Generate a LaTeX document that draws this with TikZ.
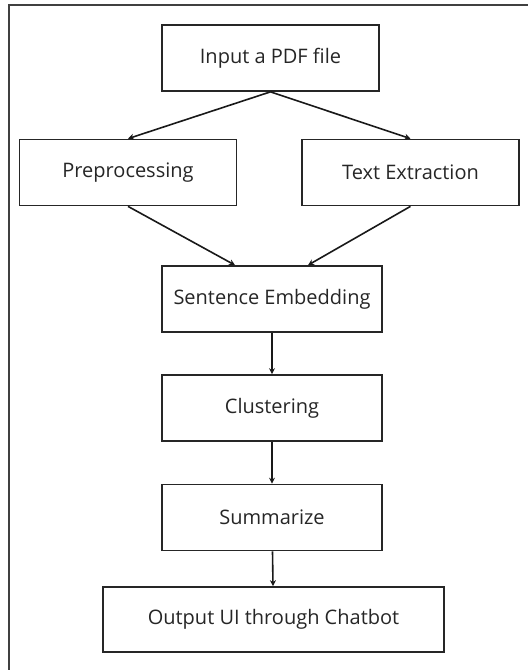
\documentclass[tikz,border=0pt]{standalone}
\usepackage{fontspec}
\setmainfont{Open Sans}
\usepackage{tikz}
\usetikzlibrary{shapes,arrows,arrows.meta,positioning}

\begin{document}
\begin{tikzpicture}[
        x=1pt, y=-1pt,
        stage/.style={rectangle, draw=black!85, line width=1.7pt, minimum width=217pt, minimum height=66pt, font=\fontsize{20}{24}\selectfont, text=black!85},
        arrow/.style={line width=1.6pt, draw=black!90, -{Stealth[length=6pt,width=6pt]}}
    ]
        \useasboundingbox (0,0) rectangle (528,670);
        % Frame
        \draw[line width=1.7pt, black!75] (9,670) -- (9,5) -- (528,5);
        
        % Top
        \node[stage] (input) at (270.5,58) {Input a PDF file};
        
        % Two branches
        \node[stage] (prep) at (128,172.5) {Preprocessing};
        \node[stage] (extract) at (410.5,172.5) {Text Extraction};
        
        % Main column
        \node[stage, minimum width=220pt] (embed) at (272,299) {Sentence Embedding};
        \node[stage, minimum width=220pt] (cluster) at (272,408) {Clustering};
        \node[stage, minimum width=220pt] (summ) at (272,517.5) {Summarize};
        \node[stage, minimum width=341pt, minimum height=65pt] (output) at (273.5,619.5) {Output UI through Chatbot};
        
        % Connections
        \draw[arrow] (input.south) -- (prep.north);
        \draw[arrow] (input.south) -- (extract.north);
        \draw[arrow] (prep.south) -- ([xshift=-37pt]embed.north);
        \draw[arrow] (extract.south) -- ([xshift=36pt]embed.north);
        \draw[arrow] (embed) -- (cluster);
        \draw[arrow] (cluster) -- (summ);
        \draw[arrow] (summ) -- (output);
    \end{tikzpicture}
\end{document}
